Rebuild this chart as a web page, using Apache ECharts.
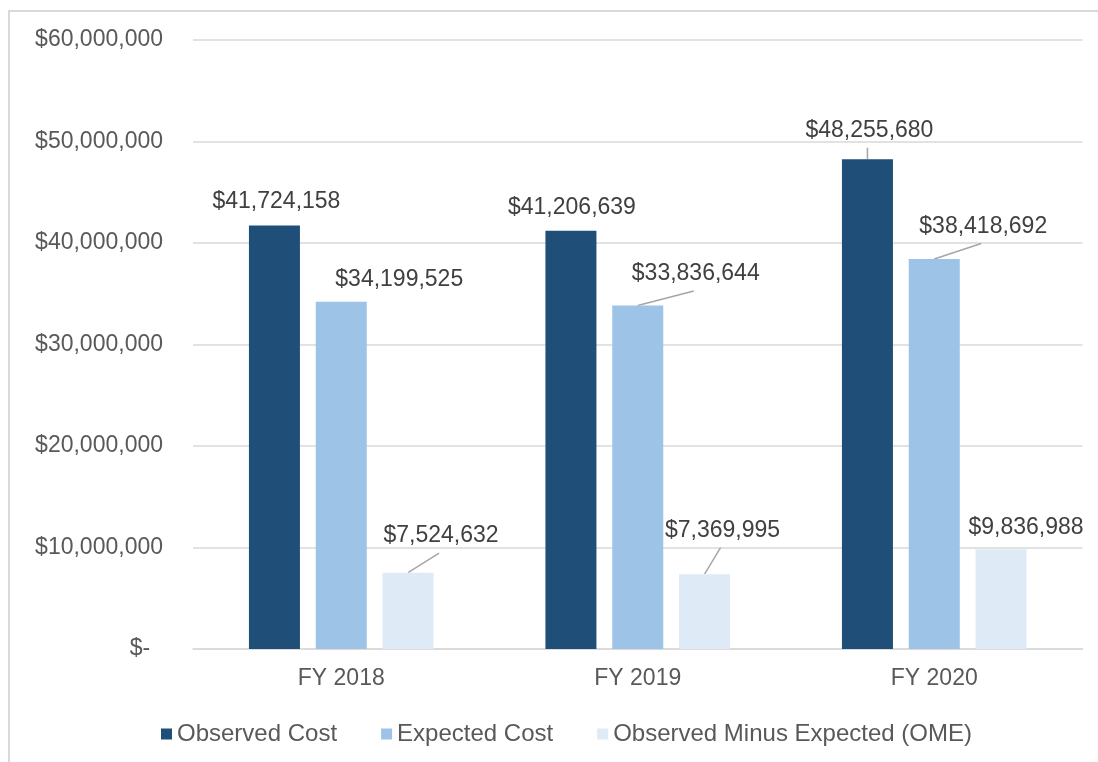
<!DOCTYPE html>
<html>
<head>
<meta charset="utf-8">
<script src="https://cdn.jsdelivr.net/npm/echarts@6/dist/echarts.min.js"></script>
<style>
  html, body { margin: 0; padding: 0; background: #fff; overflow: hidden; }
  #frame { position: absolute; left: 8px; top: 10px; width: 1200px; height: 800px; border: 2px solid #d9d9d9; box-sizing: border-box; }
  #main { position: absolute; left: 0; top: 0; width: 1098px; height: 762px; }
</style>
</head>
<body>
<div id="frame"></div>
<div id="main"></div>
<script>
// 数据
var years = ['FY 2018', 'FY 2019', 'FY 2020'];
var observedCost = [41724158, 41206639, 48255680];
var expectedCost = [34199525, 33836644, 38418692];
var omeCost = [7524632, 7369995, 9836988];
var seriesNames = ['Observed Cost', 'Expected Cost', 'Observed Minus Expected (OME)'];
var yTicks = [0, 10000000, 20000000, 30000000, 40000000, 50000000, 60000000];

// 标签偏移 (按系列, 按年份) 与是否画引线
var labelShift = [
    [[2, -7], [1, -7], [2, -12]],
    [[58, -6], [58, -15], [49, -16]],
    [[33, -20], [18, -27], [25, -5]]
];
var leader = [
    [false, false, true],
    [false, true, true],
    [true, true, false]
];

var fontSize = 23;
var labelDist = 5;

function money(v) {
    if (v === 0) return '$-  ';
    return '$' + v.toString().replace(/\B(?=(\d{3})+(?!\d))/g, ',');
}

var colors = ['#1F4E79', '#9DC3E6', '#DEEBF7'];
var font = 'Liberation Sans, Arial, sans-serif';
var allValues = [observedCost, expectedCost, omeCost];

var series = [];
for (var s = 0; s < 3; s++) {
    series.push({
        name: seriesNames[s],
        type: 'bar',
        barWidth: 51,
        barGap: '31%',
        itemStyle: { color: colors[s] },
        data: allValues[s],
        label: {
            show: true,
            position: 'top',
            distance: labelDist,
            color: '#404040',
            fontSize: fontSize,
            fontFamily: font,
            formatter: function (p) { return money(p.value); }
        },
        labelLayout: (function (si) {
            return function (p) {
                var d = labelShift[si][p.dataIndex];
                return { dx: d[0], dy: d[1] };
            };
        })(s)
    });
}

var myChart = echarts.init(document.getElementById('main'));
var option = {
    animation: false,
    backgroundColor: 'transparent',
    grid: { left: 193, right: 15.5, top: 40, bottom: 113 },
    legend: {
        left: 156,
        top: 717,
        itemWidth: 11,
        itemHeight: 11,
        itemGap: 44,
        icon: 'rect',
        textStyle: { color: '#595959', fontSize: 24, fontFamily: font },
        data: seriesNames
    },
    xAxis: {
        type: 'category',
        data: years,
        axisLine: { lineStyle: { color: '#d9d9d9', width: 1.5 } },
        axisTick: { show: false },
        axisLabel: { color: '#595959', fontSize: fontSize, fontFamily: font, margin: 18 }
    },
    yAxis: {
        type: 'value',
        min: yTicks[0],
        max: yTicks[yTicks.length - 1],
        interval: 10000000,
        axisLine: { show: false },
        axisTick: { show: false },
        splitLine: { lineStyle: { color: '#d9d9d9', width: 1.5 } },
        axisLabel: { color: '#595959', fontSize: fontSize, fontFamily: font, margin: 30, formatter: money }
    },
    series: series
};
myChart.setOption(option);

// 引线：从柱顶中点连到标签下方
function drawLeaders() {
    var lines = [];
    for (var s = 0; s < 3; s++) {
        var data = myChart.getModel().getSeriesByIndex(s).getData();
        for (var i = 0; i < years.length; i++) {
            if (!leader[s][i]) continue;
            var lay = data.getItemLayout(i);
            var top = Math.min(lay.y, lay.y + lay.height);
            var cx = lay.x + lay.width / 2;
            var d = labelShift[s][i];
            var lx = cx + d[0] - 2;
            var ly = top - labelDist - fontSize / 2 + d[1] + 17;
            lines.push({
                type: 'line',
                silent: true,
                shape: { x1: cx, y1: top, x2: lx, y2: ly },
                style: { stroke: '#a6a6a6', lineWidth: 1.5 }
            });
        }
    }
    myChart.setOption({ graphic: lines });
}
drawLeaders();
</script>
</body>
</html>
